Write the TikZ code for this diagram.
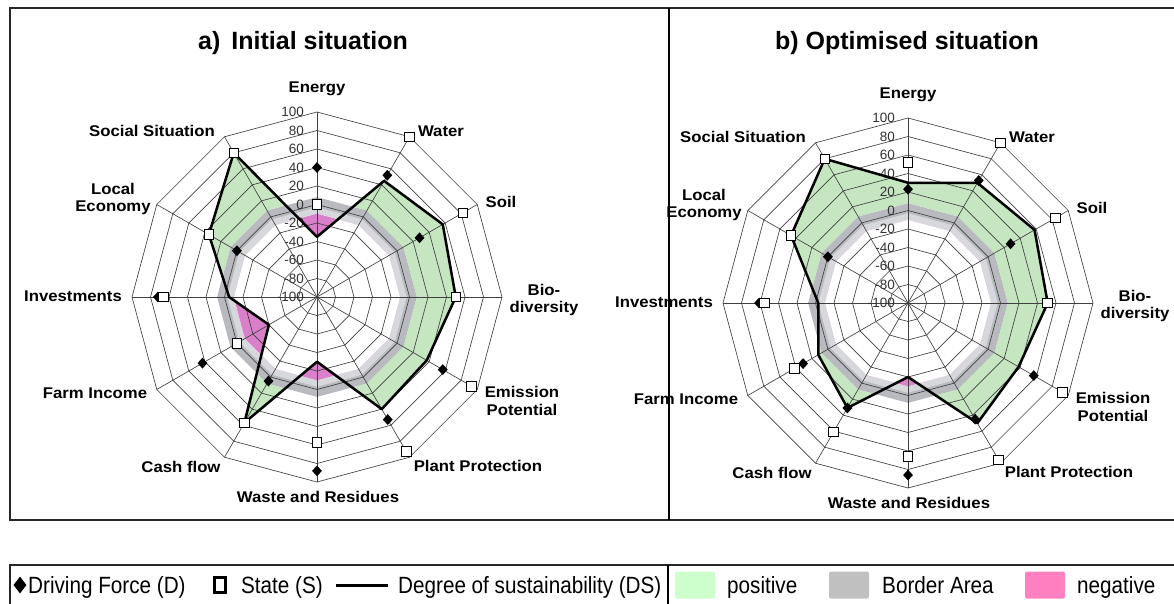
\documentclass[tikz,border=0pt]{standalone}
\usepackage{fontspec}
\setmainfont{Liberation Sans}
\newfontfamily\labelfont[FakeStretch=1.08]{Liberation Sans}
\newfontfamily\narrowfont[FakeStretch=0.88]{Liberation Sans}
\usetikzlibrary{shapes.geometric}

\definecolor{posgreen}{RGB}{198,230,194}
\definecolor{negpink}{RGB}{218,128,202}
\definecolor{bordergrey}{RGB}{184,186,192}
\definecolor{borderlight}{RGB}{214,216,220}
\definecolor{legendgreen}{RGB}{204,255,204}
\definecolor{legendgrey}{RGB}{192,192,192}
\definecolor{legendpink}{RGB}{255,128,192}

% twelve-sided ring of the web, radius = value + 100
\newcommand{\gon}[1]{(0:#1) -- (30:#1) -- (60:#1) -- (90:#1) -- (120:#1) -- (150:#1) -- (180:#1) -- (210:#1) -- (240:#1) -- (270:#1) -- (300:#1) -- (330:#1) -- cycle}

\tikzset{
  web/.style={draw=black!75, line width=0.65pt},
  dsline/.style={draw=black, line width=2.5pt, line join=round},
  dforce/.style={diamond, fill=black, inner sep=0pt, minimum width=10pt, minimum height=11pt},
  state/.style={rectangle, draw=black, fill=white, line width=0.9pt, inner sep=0pt, minimum size=9.5pt},
  axislabel/.style={font=\labelfont\bfseries\fontsize{15.5}{17.5}\selectfont, align=center, inner sep=0pt},
  scalelabel/.style={font=\fontsize{13.5}{14}\selectfont, text=black!80, anchor=east, inner sep=0pt},
  charttitle/.style={font=\bfseries\fontsize{25}{28}\selectfont, inner sep=0pt},
  legendtext/.style={font=\narrowfont\fontsize{23.5}{26}\selectfont, anchor=base west, inner sep=0pt},
  swatch/.style={rectangle, rounded corners=2pt, minimum width=40pt, minimum height=27pt, inner sep=0pt}
}

\begin{document}
\begin{tikzpicture}[x=1pt, y=-1pt]
\useasboundingbox (0,0) rectangle (1174,604);
\clip (0,0) rectangle (1174,604);

% frames
\draw[line width=1.8pt, black!85] (10,8) rectangle (1190,520);
\draw[line width=1.3pt] (669,8) -- (669,520);
\draw[line width=1.8pt, black!85] (10,565) rectangle (1190,620);
\draw[line width=1.3pt] (668,565) -- (668,610);

\node[charttitle] (title-a) at (303,43) {a)\, Initial situation};
\node[charttitle] (title-b) at (907,43) {b) Optimised situation};

% a) initial situation
\begin{scope}[shift={(317,297)}, x=0.925pt, y=0.925pt]
  \foreach \v [count=\i] in {-35,45,57,50,37,40,-30,57,-40,-5,35,80}
    \coordinate (a-ds\i) at ({120-30*\i}:{\v+100});
  \fill[bordergrey] \gon{108};
  \fill[borderlight] \gon{97};
  \fill[white] \gon{90};
  \begin{scope}
    \clip (a-ds1) \foreach \i in {2,...,12}{-- (a-ds\i)} -- cycle;
    \fill[posgreen, even odd rule] \gon{200} \gon{108};
  \end{scope}
  \begin{scope}
    \clip \gon{90};
    \fill[negpink, even odd rule] \gon{90} (a-ds1) \foreach \i in {2,...,12}{-- (a-ds\i)} -- cycle;
  \end{scope}
\end{scope}

% b) optimised situation
\begin{scope}[shift={(908,303)}, x=0.925pt, y=0.925pt]
  \foreach \v [count=\i] in {30,50,58,51,38,50,-20,31,12,-3,46,80}
    \coordinate (b-ds\i) at ({120-30*\i}:{\v+100});
  \fill[bordergrey] \gon{108};
  \fill[borderlight] \gon{97};
  \fill[white] \gon{90};
  \begin{scope}
    \clip (b-ds1) \foreach \i in {2,...,12}{-- (b-ds\i)} -- cycle;
    \fill[posgreen, even odd rule] \gon{200} \gon{108};
  \end{scope}
  \begin{scope}
    \clip \gon{90};
    \fill[negpink, even odd rule] \gon{90} (b-ds1) \foreach \i in {2,...,12}{-- (b-ds\i)} -- cycle;
  \end{scope}
\end{scope}

% web, scale and axis labels for both charts
\foreach \c/\cx/\cy in {a/317/297, b/908/303} {
  \begin{scope}[shift={(\cx,\cy)}, x=0.925pt, y=0.925pt]
    \foreach \r in {20,40,...,200}
      \draw[web] \gon{\r};
    \foreach \a in {0,30,...,330}
      \draw[web] (0,0) -- (\a:200);
    \foreach \r/\t in {0/-100,20/-80,40/-60,60/-40,80/-20,100/0,120/20,140/40,160/60,180/80,200/100}
      \node[scalelabel] (\c-scale\r) at ([xshift=-13pt]90:\r) {\t};
  \end{scope}
  \begin{scope}[shift={(\cx,\cy)}]
    \node[axislabel] (\c-energy) at (0,-208) {Energy};
    \node[axislabel] (\c-water) at (124,-166) {Water};
    \node[axislabel] (\c-soil) at (184,-95) {Soil};
    \node[axislabel] (\c-bio) at (227,3) {Bio-\\diversity};
    \node[axislabel] (\c-emission) at (205,104) {Emission\\Potential};
    \node[axislabel] (\c-plant) at (161,169) {Plant Protection};
    \node[axislabel] (\c-waste) at (1,200) {Waste and Residues};
    \node[axislabel] (\c-cash) at (-136,170) {Cash flow};
    \node[axislabel] (\c-farm) at (-222,96) {Farm Income};
    \node[axislabel] (\c-invest) at (-244,-1) {Investments};
    \node[axislabel] (\c-local) at (-204,-98) {Local\\Economy};
    \node[axislabel] (\c-social) at (-165,-166) {Social Situation};
  \end{scope}
}

% degree of sustainability and markers
\draw[dsline] (a-ds1) \foreach \i in {2,...,12}{-- (a-ds\i)} -- cycle;
\draw[dsline] (b-ds1) \foreach \i in {2,...,12}{-- (b-ds\i)} -- cycle;

\begin{scope}[shift={(317,297)}, x=0.925pt, y=0.925pt]
  \foreach \a/\v in {90/40, 60/52, 30/28, -30/57, -60/53, -90/88, -120/5, -150/43, 180/72, 150/0}
    \node[dforce] (a-d\a) at (\a:{\v+100}) {};
  \foreach \v [count=\i] in {0,100,82,50,93,93,57,57,0,66,35,80}
    \node[state] (a-s\i) at ({120-30*\i}:{\v+100}) {};
\end{scope}
\begin{scope}[shift={(908,303)}, x=0.925pt, y=0.925pt]
  \foreach \a/\v in {90/23, 60/53, 30/28, -30/57, -60/45, -90/86, -120/31, -150/31, 180/61, 150/0}
    \node[dforce] (b-d\a) at (\a:{\v+100}) {};
  \foreach \v [count=\i] in {52,100,84,51,93,96,66,61,42,55,46,80}
    \node[state] (b-s\i) at ({120-30*\i}:{\v+100}) {};
\end{scope}

% legend
\node[dforce, minimum width=13pt, minimum height=17pt] (leg-d) at (20,585) {};
\node[legendtext] (leg-dtext) at (28,593) {Driving Force (D)};
\node[state, line width=2.4pt, minimum width=11pt, minimum height=15pt] (leg-s) at (220,585) {};
\node[legendtext] (leg-stext) at (241,593) {State (S)};
\coordinate (leg-l1) at (336,585);
\coordinate (leg-l2) at (388,585);
\draw[line width=3pt] (leg-l1) -- (leg-l2);
\node[legendtext] (leg-ltext) at (398,593) {Degree of sustainability (DS)};
\node[swatch, fill=legendgreen] (leg-pos) at (695,585) {};
\node[legendtext] (leg-postext) at (727,593) {positive};
\node[swatch, fill=legendgrey] (leg-border) at (849,585) {};
\node[legendtext] (leg-bordertext) at (882,593) {Border Area};
\node[swatch, fill=legendpink] (leg-neg) at (1045,585) {};
\node[legendtext] (leg-negtext) at (1077,593) {negative};
\end{tikzpicture}
\end{document}
